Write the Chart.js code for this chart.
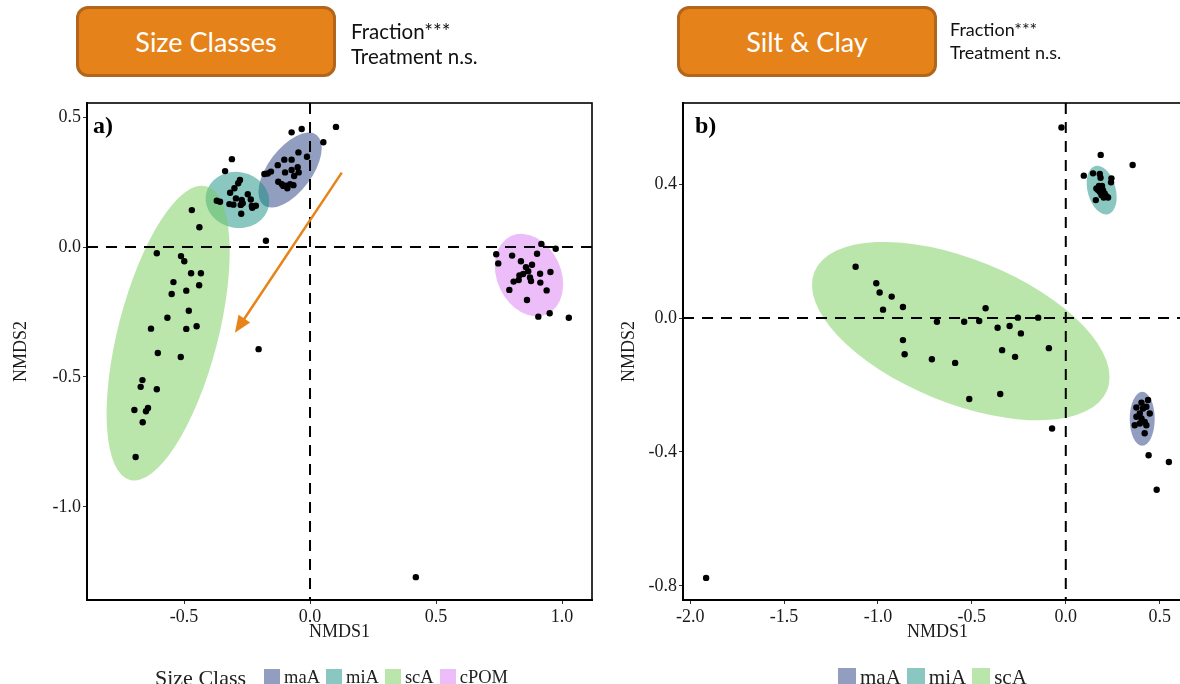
<!DOCTYPE html>
<html>
<head>
<meta charset="utf-8">
<script src="https://cdn.jsdelivr.net/npm/chart.js@4.4.0/dist/chart.umd.min.js"></script>
<style>
  html, body { margin: 0; padding: 0; width: 1180px; height: 684px; overflow: hidden; background: #fff; }
  .panel { position: absolute; top: 0; width: 600px; height: 684px; }
  canvas { position: absolute; left: 0; top: 0; }
  .badge {
    position: absolute; top: 6px; width: 254px; height: 65px;
    background: #E5821A; border: 3px solid #B3651C; border-radius: 12px;
    color: #fff; font: 27px Lato, sans-serif;
    display: flex; align-items: center; justify-content: center;
  }
  .note { position: absolute; font-family: Lato, sans-serif; color: #111; white-space: nowrap; }
  .legend {
    position: absolute; top: 665px; height: 25px; display: flex; align-items: center;
    font-family: "Liberation Serif", serif; color: #222; white-space: nowrap;
  }
  .legend .key { display: inline-block; margin-right: 4px; }
  .legend .lab { margin-right: 6px; }
</style>
</head>
<body>

<div class="panel" style="left:0">
  <canvas id="chartA" width="600" height="684"></canvas>
  <div class="badge" style="left:76px">Size Classes</div>
  <div class="note" style="left:351px; top:19px; font-size:20.5px; line-height:25px">Fraction***<br>Treatment n.s.</div>
  <div class="legend" id="legendA" style="left:155px; font-size:18.5px"></div>
</div>

<div class="panel" style="left:600px">
  <canvas id="chartB" width="600" height="684"></canvas>
  <div class="badge" style="left:77px">Silt &amp; Clay</div>
  <div class="note" style="left:350px; top:18px; font-size:18px; line-height:23px">Fraction***<br>Treatment n.s.</div>
  <div class="legend" id="legendB" style="left:238px; font-size:21px"></div>
</div>

<script>
// ---- data: NMDS scores ----
const classesA = ['maA', 'miA', 'scA', 'cPOM'];
const classesB = ['maA', 'miA', 'scA'];

const xTicksA = [-0.5, 0.0, 0.5, 1.0];
const yTicksA = [-1.0, -0.5, 0.0, 0.5];
const xTicksB = [-2.0, -1.5, -1.0, -0.5, 0.0, 0.5];
const yTicksB = [-0.8, -0.4, 0.0, 0.4];

// a) size classes
const maA_a = [[-0.046,0.364],[-0.012,0.347],[-0.102,0.336],[-0.073,0.336],[-0.128,0.315],[-0.099,0.287],
  [-0.073,0.296],[-0.049,0.307],[-0.045,0.287],[-0.063,0.273],[-0.155,0.290],[-0.168,0.283],[-0.181,0.281],
  [-0.126,0.251],[-0.112,0.242],[-0.095,0.236],[-0.079,0.242],[-0.090,0.226],[-0.106,0.235],[-0.066,0.238],
  [-0.073,0.441],[-0.033,0.454],[0.103,0.462],[0.053,0.403]];
const miA_a = [[-0.278,0.258],[-0.285,0.245],[-0.300,0.226],[-0.317,0.209],[-0.294,0.187],[-0.271,0.181],
  [-0.247,0.203],[-0.235,0.183],[-0.370,0.178],[-0.357,0.174],[-0.320,0.165],[-0.304,0.163],[-0.275,0.162],
  [-0.267,0.168],[-0.231,0.158],[-0.215,0.159],[-0.229,0.151],[-0.273,0.128],[-0.310,0.338],[-0.337,0.292],
  [-0.175,0.024]];
const scA_a = [[-0.469,0.142],[-0.439,0.076],[-0.608,-0.024],[-0.512,-0.035],[-0.499,-0.055],[-0.472,-0.101],
  [-0.433,-0.101],[-0.542,-0.135],[-0.440,-0.147],[-0.549,-0.181],[-0.491,-0.168],[-0.481,-0.245],[-0.566,-0.272],
  [-0.631,-0.314],[-0.491,-0.315],[-0.450,-0.305],[-0.604,-0.408],[-0.513,-0.423],[-0.665,-0.512],[-0.672,-0.538],
  [-0.608,-0.547],[-0.697,-0.627],[-0.651,-0.632],[-0.643,-0.619],[-0.664,-0.674],[-0.692,-0.808],[-0.204,-0.393]];
const cPOM_a = [[0.918,0.012],[0.975,-0.007],[0.739,-0.028],[0.802,-0.033],[0.901,-0.026],[0.747,-0.063],
  [0.837,-0.055],[0.881,-0.068],[0.857,-0.078],[0.866,-0.093],[0.846,-0.104],[0.831,-0.109],[0.873,-0.117],
  [0.913,-0.103],[0.954,-0.096],[0.828,-0.127],[0.808,-0.133],[0.877,-0.131],[0.914,-0.137],[0.791,-0.165],
  [0.939,-0.167],[0.861,-0.204],[0.906,-0.268],[0.951,-0.255],[1.027,-0.272],[0.420,-1.270]];

// b) silt & clay
const maA_b = [[0.438,-0.245],[0.403,-0.253],[0.376,-0.267],[0.411,-0.270],[0.429,-0.265],[0.447,-0.285],
  [0.394,-0.285],[0.376,-0.295],[0.403,-0.300],[0.420,-0.310],[0.367,-0.320],[0.394,-0.315],[0.429,-0.320],
  [0.420,-0.344],[0.441,-0.410],[0.549,-0.430],[0.484,-0.513]];
const miA_b = [[0.163,0.387],[0.177,0.394],[0.193,0.394],[0.198,0.382],[0.181,0.377],[0.207,0.372],
  [0.216,0.364],[0.202,0.360],[0.225,0.360],[0.190,0.367],[0.172,0.382],[0.160,0.352],[0.096,0.425],
  [0.145,0.432],[0.181,0.430],[0.185,0.419],[0.243,0.417],[0.241,0.405],[0.186,0.487],[0.356,0.457],
  [-0.023,0.569]];
const scA_b = [[-1.119,0.153],[-1.009,0.104],[-0.991,0.076],[-0.927,0.064],[-0.973,0.025],[-0.867,0.033],
  [-0.686,-0.011],[-0.541,-0.011],[-0.461,-0.009],[-0.427,0.029],[-0.363,-0.029],[-0.299,-0.024],
  [-0.255,0.001],[-0.147,0.001],[-0.239,-0.046],[-0.867,-0.066],[-0.858,-0.108],[-0.713,-0.123],
  [-0.589,-0.134],[-0.339,-0.096],[-0.270,-0.116],[-0.090,-0.090],[-0.514,-0.242],[-0.349,-0.227],
  [-0.073,-0.330],[-1.915,-0.776]];

// confidence ellipses: centre x, centre y, semi-axis 1 (dx, dy), semi-axis 2 (dx, dy), in NMDS units
const ellipsesA = [[-0.079,0.296, 0.105,0.135, 0.069,-0.051],
                   [-0.288,0.181, 0.125,-0.0215, -0.019,-0.106],
                   [-0.563,-0.331, 0.151,0.565, 0.192,-0.048],
                   [0.869,-0.108, 0.072,-0.150, 0.115,0.052]];
const ellipsesB = [[0.407,-0.301, 0.0,0.0806, 0.0665,0.0],
                   [0.191,0.382, 0.0346,-0.072, 0.072,0.0108],
                   [-0.559,-0.039, 0.779,-0.177, -0.144,-0.199]];

// shift arrow in panel a (from, to)
const arrowA = [[0.126, 0.286], [-0.298, -0.330]];

// ---- styles ----
const classFill = {
  maA: 'rgba(37,61,129,0.5)',
  miA: 'rgba(21,143,129,0.5)',
  scA: 'rgba(117,205,89,0.5)',
  cPOM: 'rgba(217,123,241,0.5)'
};
const serif = '"Liberation Serif", "Times New Roman", serif';

const toPoints = arr => arr.map(p => ({ x: p[0], y: p[1] }));

function drawEllipse(ctx, xs, ys, e, color) {
  const [cx, cy, ax, ay, bx, by] = e;
  const px = xs.getPixelForValue(cx), py = ys.getPixelForValue(cy);
  const kx = xs.getPixelForValue(cx + 1) - px;
  const ky = ys.getPixelForValue(cy + 1) - py;
  ctx.save();
  ctx.transform(ax * kx, ay * ky, bx * kx, by * ky, px, py);
  ctx.beginPath();
  ctx.arc(0, 0, 1, 0, Math.PI * 2);
  ctx.restore();
  ctx.fillStyle = color;
  ctx.fill();
}

// ellipses, zero lines, frame, panel letter and arrow
const ordination = {
  id: 'ordination',
  beforeDatasetsDraw(chart, args, opts) {
    const { ctx, chartArea: a, scales: { x, y } } = chart;
    ctx.save();
    ctx.beginPath();
    ctx.rect(a.left, a.top, a.right - a.left, a.bottom - a.top);
    ctx.clip();
    opts.ellipses.forEach((e, i) => drawEllipse(ctx, x, y, e, classFill[opts.classes[i]]));

    ctx.strokeStyle = '#000';
    ctx.lineWidth = 2;
    ctx.setLineDash([11, 8]);
    const x0 = x.getPixelForValue(0), y0 = y.getPixelForValue(0);
    ctx.beginPath();
    ctx.moveTo(a.left, y0); ctx.lineTo(a.right, y0);
    ctx.moveTo(x0, a.top); ctx.lineTo(x0, a.bottom);
    ctx.stroke();
    ctx.restore();
  },
  afterDatasetsDraw(chart, args, opts) {
    const { ctx, chartArea: a, scales: { x, y } } = chart;
    ctx.save();
    if (opts.arrow) {
      const x1 = x.getPixelForValue(opts.arrow[0][0]), y1 = y.getPixelForValue(opts.arrow[0][1]);
      const x2 = x.getPixelForValue(opts.arrow[1][0]), y2 = y.getPixelForValue(opts.arrow[1][1]);
      const ang = Math.atan2(y2 - y1, x2 - x1);
      const head = 17, half = 7;
      ctx.strokeStyle = '#E6841A';
      ctx.fillStyle = '#E6841A';
      ctx.lineWidth = 2.5;
      ctx.beginPath();
      ctx.moveTo(x1, y1);
      ctx.lineTo(x2 - Math.cos(ang) * head * 0.8, y2 - Math.sin(ang) * head * 0.8);
      ctx.stroke();
      ctx.beginPath();
      ctx.moveTo(x2, y2);
      ctx.lineTo(x2 - Math.cos(ang) * head - Math.sin(ang) * half, y2 - Math.sin(ang) * head + Math.cos(ang) * half);
      ctx.lineTo(x2 - Math.cos(ang) * head + Math.sin(ang) * half, y2 - Math.sin(ang) * head - Math.cos(ang) * half);
      ctx.closePath();
      ctx.fill();
    }
    ctx.strokeStyle = '#000';
    ctx.lineWidth = 1.6;
    ctx.strokeRect(a.left, a.top, a.right - a.left, a.bottom - a.top);
    ctx.fillStyle = '#000';
    ctx.font = 'bold 24px ' + serif;
    ctx.fillText(opts.letter, a.left + opts.letterDx, a.top + 30);
    ctx.restore();
  }
};

function axis(min, max, ticks, title, boxSize, horizontal) {
  return {
    type: 'linear',
    min: min,
    max: max,
    afterBuildTicks: s => { s.ticks = ticks.map(v => ({ value: v })); },
    afterFit: s => { if (horizontal) s.height = boxSize; else s.width = boxSize; },
    ticks: {
      callback: v => v.toFixed(1),
      color: '#1a1a1a',
      font: { family: serif, size: 18 },
      padding: 2,
      maxRotation: 0,
      autoSkip: false
    },
    grid: { display: true, drawOnChartArea: false, drawTicks: true, tickLength: 4, color: '#333' },
    border: { display: true, color: '#000', width: 2 },
    title: {
      display: true,
      text: title,
      color: '#1a1a1a',
      font: { family: serif, size: 18 },
      padding: { top: 2, bottom: 1 }
    }
  };
}

function makeChart(id, classes, series, cfg) {
  return new Chart(document.getElementById(id), {
    type: 'scatter',
    data: {
      datasets: series.map((s, i) => ({
        label: classes[i],
        data: toPoints(s),
        backgroundColor: '#000',
        borderWidth: 0,
        pointRadius: 3.2,
        pointHoverRadius: 3.2
      }))
    },
    options: {
      responsive: false,
      animation: false,
      devicePixelRatio: 1,
      layout: { padding: cfg.padding },
      plugins: {
        legend: { display: false },
        tooltip: { enabled: false },
        ordination: { classes: classes, ellipses: cfg.ellipses, arrow: cfg.arrow, letter: cfg.letter, letterDx: cfg.letterDx }
      },
      scales: {
        x: axis(cfg.xRange[0], cfg.xRange[1], cfg.xTicks, 'NMDS1', 44, true),
        y: axis(cfg.yRange[0], cfg.yRange[1], cfg.yTicks, 'NMDS2', cfg.yWidth, false)
      }
    },
    plugins: [ordination]
  });
}

makeChart('chartA', classesA, [maA_a, miA_a, scA_a, cPOM_a], {
  padding: { top: 103, left: 8, right: 8, bottom: 40 },
  yWidth: 79,
  xRange: [-0.885, 1.119], yRange: [-1.358, 0.554],
  xTicks: xTicksA, yTicks: yTicksA,
  ellipses: ellipsesA, arrow: arrowA, letter: 'a)', letterDx: 6
});

makeChart('chartB', classesB, [maA_b, miA_b, scA_b], {
  padding: { top: 103, left: 16, right: 8, bottom: 40 },
  yWidth: 67,
  xRange: [-2.038, 0.672], yRange: [-0.842, 0.642],
  xTicks: xTicksB, yTicks: yTicksB,
  ellipses: ellipsesB, arrow: null, letter: 'b)', letterDx: 12
});

// legends (keys share the ellipse fills)
function buildLegend(id, title, classes, keySize) {
  const box = document.getElementById(id);
  if (title) {
    const t = document.createElement('span');
    t.textContent = title;
    t.style.fontSize = '22px';
    t.style.marginRight = '18px';
    box.appendChild(t);
  }
  classes.forEach(c => {
    const k = document.createElement('span');
    k.className = 'key';
    k.style.width = keySize + 'px';
    k.style.height = (keySize + 1) + 'px';
    k.style.background = classFill[c];
    box.appendChild(k);
    const l = document.createElement('span');
    l.className = 'lab';
    l.textContent = c;
    box.appendChild(l);
  });
}
buildLegend('legendA', 'Size Class', classesA, 16);
buildLegend('legendB', null, classesB, 18);
</script>
</body>
</html>
